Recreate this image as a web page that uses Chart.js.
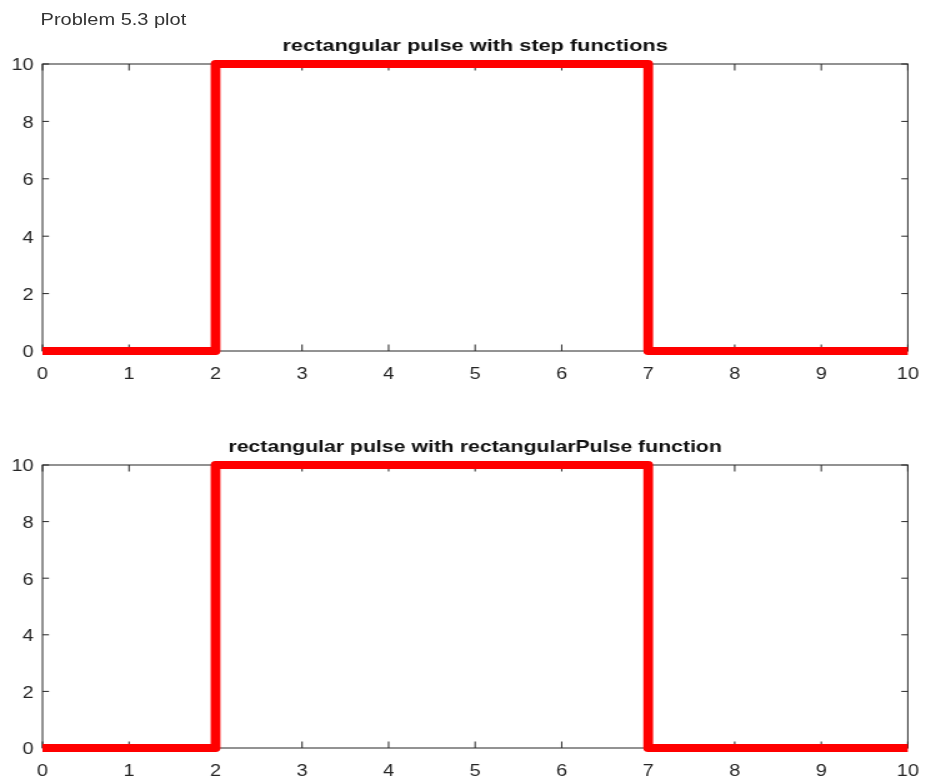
<!DOCTYPE html>
<html>
<head>
<meta charset="utf-8">
<script src="https://cdn.jsdelivr.net/npm/chart.js@4.4.1/dist/chart.umd.min.js"></script>
<style>
  html, body { margin: 0; padding: 0; background: #fff; }
  #fig {
    position: absolute; left: 0; top: 0;
    width: 741px; height: 783px;
    transform: scaleX(1.2497); transform-origin: 0 0;
  }
  #suptitle {
    position: absolute; left: 32.5px; top: 11.5px;
    font: 16px "Liberation Sans", Arial, sans-serif; line-height: 16px;
    color: #333; white-space: nowrap;
  }
  canvas { position: absolute; left: 0; }
</style>
</head>
<body>
<div id="fig">
  <div id="suptitle">Problem 5.3 plot</div>
  <canvas id="top" width="741" height="400" style="top:0"></canvas>
  <canvas id="bottom" width="741" height="383" style="top:400px"></canvas>
</div>
<script>
// data
const tVals = [0, 2, 2, 7, 7, 10];
const stepVals = [0, 0, 10, 10, 0, 0];
const pulseVals = [0, 0, 10, 10, 0, 0];
const xTicks = [0, 1, 2, 3, 4, 5, 6, 7, 8, 9, 10];
const yTicks = [0, 2, 4, 6, 8, 10];
const titles = ['rectangular pulse with step functions', 'rectangular pulse with rectangularPulse function'];

const FONT = '"Liberation Sans", Arial, Helvetica, sans-serif';
const AXIS_COLOR = '#262626';

// box + inward ticks on all four sides, and the title
const frame = {
    id: 'frame',
    beforeDatasetsDraw(chart, args, opts) {
        const ctx = chart.ctx;
        const a = chart.chartArea;
        const x = chart.scales.x, y = chart.scales.y;
        ctx.save();
        ctx.strokeStyle = AXIS_COLOR;
        ctx.lineWidth = 1;
        ctx.strokeRect(a.left, a.top, a.right - a.left, a.bottom - a.top);
        ctx.beginPath();
        x.ticks.forEach(t => {
            const px = x.getPixelForValue(t.value);
            ctx.moveTo(px, a.bottom); ctx.lineTo(px, a.bottom - 6.5);
            ctx.moveTo(px, a.top); ctx.lineTo(px, a.top + 6.5);
        });
        y.ticks.forEach(t => {
            const py = y.getPixelForValue(t.value);
            ctx.moveTo(a.left, py); ctx.lineTo(a.left + 5.2, py);
            ctx.moveTo(a.right, py); ctx.lineTo(a.right - 5.2, py);
        });
        ctx.stroke();
        ctx.fillStyle = '#111';
        ctx.font = 'bold ' + opts.size + 'px ' + FONT;
        ctx.textAlign = 'center';
        ctx.textBaseline = 'alphabetic';
        ctx.fillText(opts.text, (a.left + a.right) / 2, a.top - 13.5);
        ctx.restore();
    }
};

function makeChart(id, values, title, titleSize, top, axisHeight) {
    return new Chart(document.getElementById(id), {
        type: 'scatter',
        data: {
            datasets: [{
                data: tVals.map((t, i) => ({ x: t, y: values[i] })),
                showLine: true,
                borderColor: '#ff0000',
                borderWidth: 7.8,
                borderJoinStyle: 'round',
                pointRadius: 0,
                pointHoverRadius: 0,
                clip: false
            }]
        },
        options: {
            responsive: false,
            animation: false,
            devicePixelRatio: 1,
            layout: { padding: { left: 0, right: 14.6, top: top, bottom: 0 } },
            plugins: {
                legend: { display: false },
                tooltip: { enabled: false },
                title: { display: false },
                frame: { text: title, size: titleSize }
            },
            scales: {
                x: {
                    type: 'linear', min: 0, max: 10,
                    afterBuildTicks: s => { s.ticks = xTicks.map(v => ({ value: v })); },
                    afterFit: s => { s.height = axisHeight; s.paddingLeft = 0; s.paddingRight = 0; },
                    grid: { display: false, drawTicks: false },
                    border: { display: false },
                    ticks: { padding: 14, color: AXIS_COLOR, font: { family: FONT, size: 16 }, maxRotation: 0 }
                },
                y: {
                    type: 'linear', min: 0, max: 10,
                    afterBuildTicks: s => { s.ticks = yTicks.map(v => ({ value: v })); },
                    afterFit: s => { s.width = 34; s.paddingTop = 0; s.paddingBottom = 0; },
                    grid: { display: false, drawTicks: false },
                    border: { display: false },
                    ticks: { padding: 7, labelOffset: 2, color: AXIS_COLOR, font: { family: FONT, size: 16 } }
                }
            }
        },
        plugins: [frame]
    });
}

makeChart('top', stepVals, titles[0], 17.4, 64, 49);
makeChart('bottom', pulseVals, titles[1], 17, 65, 35);
</script>
</body>
</html>
